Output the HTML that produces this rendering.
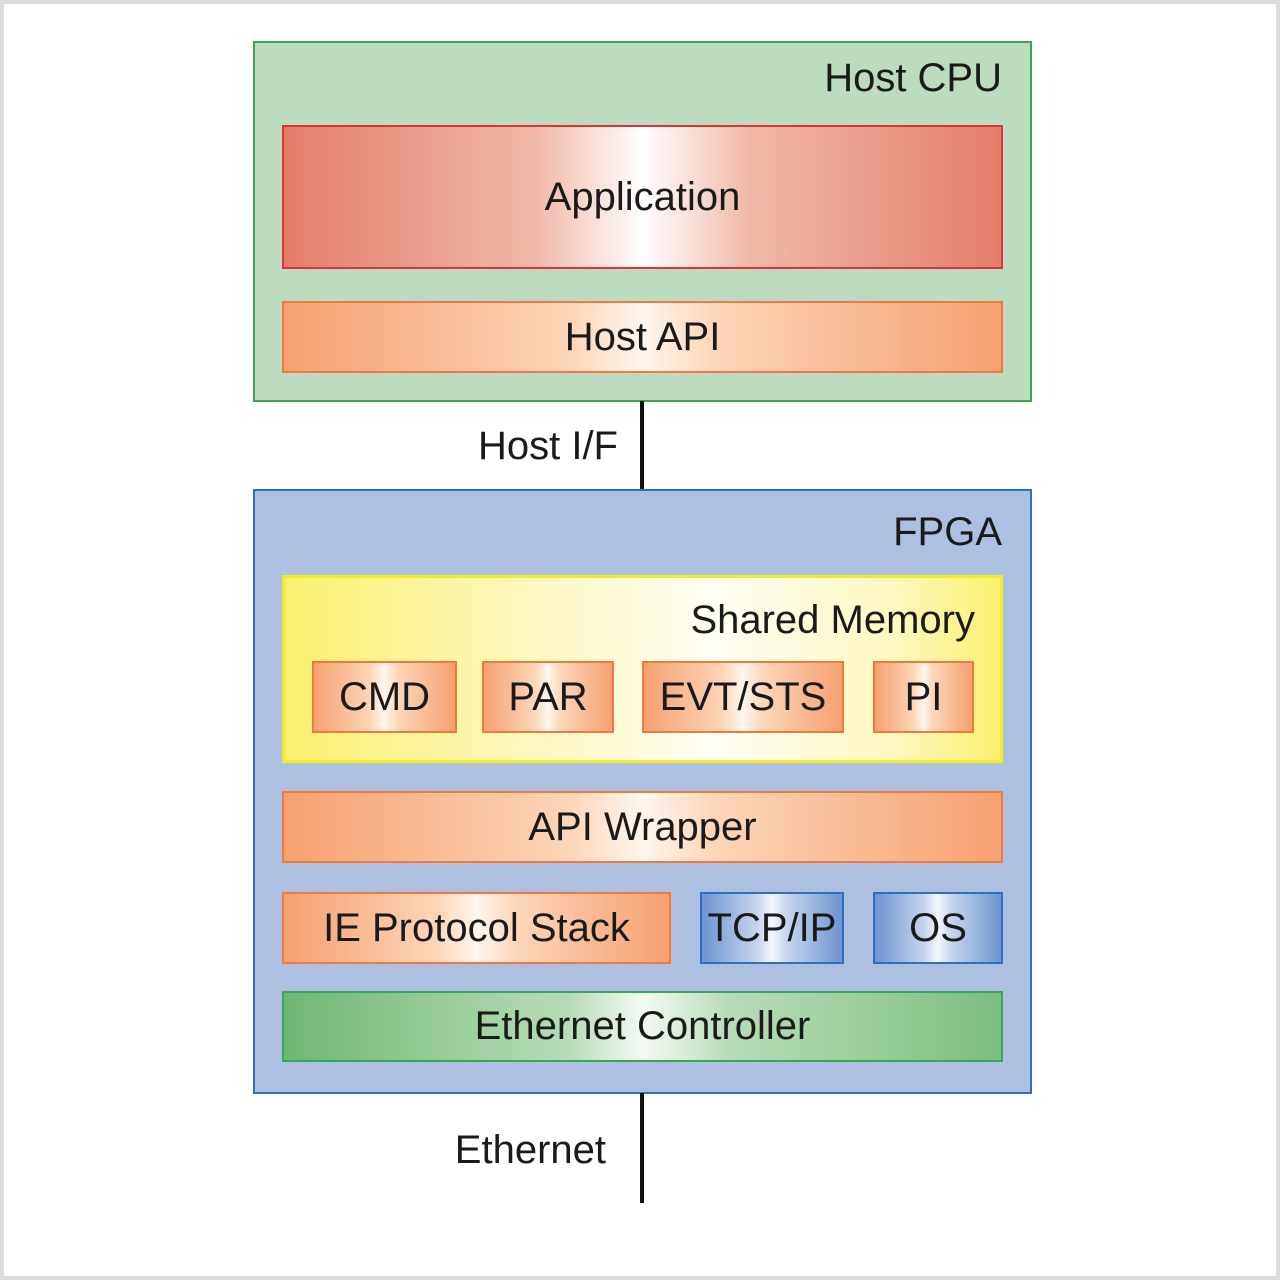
<!DOCTYPE html>
<html><head><meta charset="utf-8"><style>
html,body{margin:0;padding:0}
body{width:1280px;height:1280px;position:relative;background:#fff;overflow:hidden;font-family:"Liberation Sans Narrow","Liberation Sans",sans-serif;color:#1a1a1a}
.frame{position:absolute;left:0;top:0;width:1272px;height:1272px;border:4px solid #dcdcdc}
.b{position:absolute;box-sizing:border-box;display:flex;align-items:center;justify-content:center;font-size:40px}
.or{border:2px solid #ee7a40;background:linear-gradient(90deg,#f6a070 0%,#fcd6b8 40%,#fff6ee 50%,#fcd6b8 60%,#f6a070 100%)}
.bl{border:2px solid #2f6fbf;background:linear-gradient(90deg,#6f94cf 0%,#c8d6ee 40%,#f4f7fc 50%,#c8d6ee 60%,#6f94cf 100%)}
.lbl{position:absolute;font-size:40px;white-space:nowrap}
.line{position:absolute;width:4px;background:#111}
</style></head><body>
<div class="frame"></div>
<div class="b" style="left:253px;top:41px;width:779px;height:361px;border:2px solid #3aa757;background:#bddbbe"></div>
<div class="lbl" style="right:278px;top:56px">Host CPU</div>
<div class="b" style="left:282px;top:125px;width:721px;height:144px;border:2px solid #e0303a;background:linear-gradient(90deg,#e47e6a 0%,#f0b8a8 35%,#fff 50%,#f0b8a8 65%,#e47e6a 100%)">Application</div>
<div class="b or" style="left:282px;top:301px;width:721px;height:72px">Host API</div>
<div class="line" style="left:640px;top:401px;height:89px"></div>
<div class="lbl" style="right:662px;top:424px">Host I/F</div>
<div class="b" style="left:253px;top:489px;width:779px;height:605px;border:2px solid #2f6fbf;background:#aec0e2"></div>
<div class="lbl" style="right:278px;top:510px">FPGA</div>
<div class="b" style="left:282px;top:575px;width:721px;height:188px;border:3px solid #f0ec20;background:linear-gradient(90deg,#faf070 0%,#fdf8c0 35%,#fffef5 60%,#fdf8c0 85%,#faf070 100%)"></div>
<div class="lbl" style="right:305px;top:598px">Shared Memory</div>
<div class="b or" style="left:312px;top:661px;width:145px;height:72px">CMD</div>
<div class="b or" style="left:482px;top:661px;width:132px;height:72px">PAR</div>
<div class="b or" style="left:642px;top:661px;width:202px;height:72px">EVT/STS</div>
<div class="b or" style="left:873px;top:661px;width:101px;height:72px">PI</div>
<div class="b or" style="left:282px;top:791px;width:721px;height:72px">API Wrapper</div>
<div class="b or" style="left:282px;top:892px;width:389px;height:72px">IE Protocol Stack</div>
<div class="b bl" style="left:700px;top:892px;width:144px;height:72px">TCP/IP</div>
<div class="b bl" style="left:873px;top:892px;width:130px;height:72px">OS</div>
<div class="b" style="left:282px;top:991px;width:721px;height:71px;border:2px solid #3aa757;background:linear-gradient(90deg,#6fb873 0%,#b8dcb8 40%,#f4faf4 50%,#b8dcb8 62%,#7bbf7f 100%)">Ethernet Controller</div>
<div class="line" style="left:640px;top:1093px;height:110px"></div>
<div class="lbl" style="right:674px;top:1128px">Ethernet</div>
</body></html>
